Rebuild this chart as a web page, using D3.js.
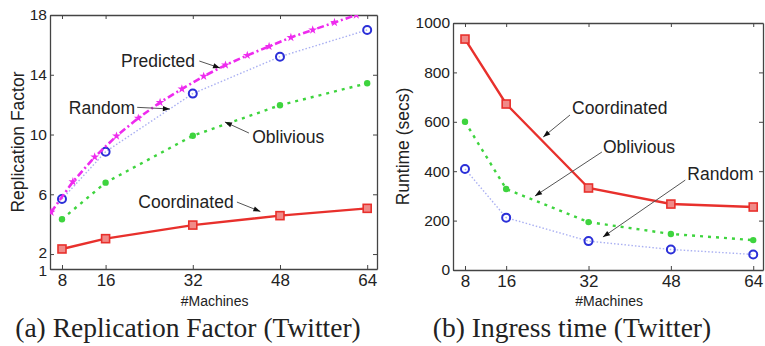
<!DOCTYPE html>
<html>
<head>
<meta charset="utf-8">
<script src="https://cdn.jsdelivr.net/npm/d3@7"></script>
<style>
  body { margin: 0; background: #fff; }
  svg { display: block; }
  text { font-family: "Liberation Sans", Arial, Helvetica, sans-serif; fill: #222; }
  .caption { font-family: "Liberation Serif", "Times New Roman", serif; }
</style>
</head>
<body>
<svg id="chart" width="765" height="346"></svg>
<script>
// x values
const machines = [8, 16, 32, 48, 64];
const predMachines = [6, 10, 14, 18, 22, 26, 30, 34, 38, 42, 46, 50, 54, 58, 62];

// (a) replication factor
const repCoordinated = [2.34, 3.03, 3.94, 4.57, 5.06];
const repOblivious = [4.33, 6.78, 9.92, 11.96, 13.43];
const repRandom = [5.68, 8.85, 12.74, 15.21, 17.0];
const repPredicted = [4.8, 6.84, 8.5, 9.9, 11.1, 12.15, 13.05, 13.9, 14.65, 15.3, 15.9, 16.5, 17.0, 17.5, 18.0];

// (b) ingress time in seconds
const ingCoordinated = [935, 672, 332, 267, 255];
const ingOblivious = [600, 328, 194, 146, 121];
const ingRandom = [409, 212, 117, 83, 63];

// tick labels
const xTicks = [8, 16, 32, 48, 64];
const repTicks = [1, 2, 6, 10, 14, 18];
const ingTicks = [0, 200, 400, 600, 800, 1000];

const svg = d3.select("#chart");

// styles for each series
const styles = {
    Coordinated: { stroke: "#e8302c", width: 2.4, dash: null, marker: "square", mcolor: "#e8302c" },
    Oblivious: { stroke: "#3ed43e", width: 2.4, dash: "3,5", marker: "dot", mcolor: "#3ed43e" },
    Random: { stroke: "#aab0f2", width: 1.4, dash: "1.5,2", marker: "circle", mcolor: "#2b2fd8" },
    Predicted: { stroke: "#ee2bee", width: 2.6, dash: "7,3,2,3", marker: "star", mcolor: "#ee2bee" }
};

function drawPanel(opt) {
    const g = svg.append("g");
    const x = d3.scaleLinear().domain(opt.xDomain).range([opt.left, opt.right]);
    const y = d3.scaleLinear().domain(opt.yDomain).range([opt.bottom, opt.top]);

    const clipId = "clip-" + opt.id;
    svg.append("clipPath").attr("id", clipId)
        .append("rect")
        .attr("x", opt.left).attr("y", opt.top)
        .attr("width", opt.right - opt.left).attr("height", opt.bottom - opt.top);

    // box + ticks on all four sides (ticks point inward)
    g.append("g")
        .attr("transform", "translate(0," + opt.bottom + ")")
        .call(d3.axisBottom(x).tickValues(xTicks).tickSizeInner(-4).tickSizeOuter(0).tickPadding(5))
        .call(a => a.selectAll("text").style("font-size", "17px"));
    g.append("g")
        .attr("transform", "translate(0," + opt.top + ")")
        .call(d3.axisTop(x).tickValues(xTicks).tickSizeInner(-4).tickSizeOuter(0).tickFormat(""));
    g.append("g")
        .attr("transform", "translate(" + opt.left + ",0)")
        .call(d3.axisLeft(y).tickValues(opt.yTicks).tickFormat(d3.format("d"))
            .tickSizeInner(-4).tickSizeOuter(0).tickPadding(3))
        .call(a => a.selectAll("text").style("font-size", "15.5px"))
        // the 1 and 2 ticks sit very close, spread their labels a little
        .call(a => a.selectAll(".tick text").filter(d => d === 1).attr("dy", "0.45em"))
        .call(a => a.selectAll(".tick text").filter(d => d === 2).attr("dy", "0.2em"));
    g.append("g")
        .attr("transform", "translate(" + opt.right + ",0)")
        .call(d3.axisRight(y).tickValues(opt.yTicks).tickSizeInner(-4).tickSizeOuter(0).tickFormat(""));
    g.selectAll(".domain").attr("stroke", "#444").attr("stroke-width", 1.3);
    g.selectAll(".tick line").attr("stroke", "#444");

    const plot = g.append("g").attr("clip-path", "url(#" + clipId + ")");

    opt.series.forEach(s => {
        const st = styles[s.name];
        const pts = s.xs.map((v, i) => [v, s.values[i]]);
        const line = d3.line().x(d => x(d[0])).y(d => y(d[1]));
        plot.append("path")
            .attr("d", line(pts))
            .attr("fill", "none")
            .attr("stroke", st.stroke)
            .attr("stroke-width", st.width)
            .attr("stroke-dasharray", st.dash);

        const m = plot.selectAll(null).data(pts).enter();
        if (st.marker === "square") {
            m.append("rect")
                .attr("x", d => x(d[0]) - 4).attr("y", d => y(d[1]) - 4)
                .attr("width", 8).attr("height", 8)
                .attr("fill", "#f08a88").attr("stroke", st.mcolor).attr("stroke-width", 1.6);
        } else if (st.marker === "dot") {
            m.append("circle")
                .attr("cx", d => x(d[0])).attr("cy", d => y(d[1])).attr("r", 3.2)
                .attr("fill", st.mcolor);
        } else if (st.marker === "circle") {
            m.append("circle")
                .attr("cx", d => x(d[0])).attr("cy", d => y(d[1])).attr("r", 4)
                .attr("fill", "none").attr("stroke", st.mcolor).attr("stroke-width", 2);
        } else {
            m.append("path")
                .attr("transform", d => "translate(" + x(d[0]) + "," + y(d[1]) + ")")
                .attr("d", d3.symbol(d3.symbolStar, 24))
                .attr("fill", st.mcolor);
        }
    });

    // annotations with arrows, positioned in data coordinates
    opt.notes.forEach(n => {
        g.append("text")
            .attr("x", x(n.tx)).attr("y", y(n.ty))
            .attr("text-anchor", n.anchor)
            .attr("dominant-baseline", "central")
            .style("font-size", "17.5px")
            .text(n.label);
        const x1 = x(n.from[0]), y1 = y(n.from[1]);
        const x2 = x(n.to[0]), y2 = y(n.to[1]);
        const ang = Math.atan2(y2 - y1, x2 - x1);
        g.append("line")
            .attr("x1", x1).attr("y1", y1).attr("x2", x2).attr("y2", y2)
            .attr("stroke", "#555").attr("stroke-width", 1);
        const len = 7, wid = 2.6;
        const bx = x2 - len * Math.cos(ang), by = y2 - len * Math.sin(ang);
        g.append("path")
            .attr("d", "M" + x2 + "," + y2 +
                "L" + (bx + wid * Math.sin(ang)) + "," + (by - wid * Math.cos(ang)) +
                "L" + (bx - wid * Math.sin(ang)) + "," + (by + wid * Math.cos(ang)) + "Z")
            .attr("fill", "#111");
    });

    // axis titles
    g.append("text")
        .attr("x", (x(xTicks[0]) + x(xTicks[xTicks.length - 1])) / 2)
        .attr("y", 301)
        .attr("text-anchor", "middle")
        .attr("dominant-baseline", "central")
        .style("font-size", "14px")
        .text("#Machines");
    g.append("text")
        .attr("transform", "translate(" + opt.yLabelX + "," + (opt.top + opt.bottom) / 2 + ") rotate(-90)")
        .attr("text-anchor", "middle")
        .attr("dominant-baseline", "central")
        .style("font-size", "17.5px")
        .text(opt.yLabel);

    svg.append("text")
        .attr("class", "caption")
        .attr("x", opt.captionX).attr("y", 337)
        .attr("text-anchor", "middle")
        .style("font-size", "27.5px")
        .text(opt.caption);
}

drawPanel({
    id: "a",
    left: 50, right: 377, top: 15, bottom: 269,
    xDomain: [5.8, 65.8], yDomain: [1, 18],
    yTicks: repTicks,
    yLabel: "Replication Factor", yLabelX: 18,
    caption: "(a) Replication Factor (Twitter)", captionX: 188,
    series: [
        { name: "Random", xs: machines, values: repRandom },
        { name: "Predicted", xs: predMachines, values: repPredicted },
        { name: "Oblivious", xs: machines, values: repOblivious },
        { name: "Coordinated", xs: machines, values: repCoordinated }
    ],
    notes: [
        { label: "Predicted", tx: 32.4, ty: 14.92, anchor: "end", from: [33.2, 14.92], to: [37, 14.45] },
        { label: "Random", tx: 21.4, ty: 11.78, anchor: "end", from: [21.8, 11.82], to: [27.8, 11.71] },
        { label: "Oblivious", tx: 42.9, ty: 9.83, anchor: "start", from: [42.3, 10.1], to: [37.9, 10.84] },
        { label: "Coordinated", tx: 22, ty: 5.48, anchor: "start", from: [40.1, 5.48], to: [44.4, 4.85] }
    ]
});

drawPanel({
    id: "b",
    left: 453, right: 763, top: 23, bottom: 270,
    xDomain: [5.67, 65.9], yDomain: [0, 1000],
    yTicks: ingTicks,
    yLabel: "Runtime (secs)", yLabelX: 403,
    caption: "(b) Ingress time (Twitter)", captionX: 572,
    series: [
        { name: "Random", xs: machines, values: ingRandom },
        { name: "Oblivious", xs: machines, values: ingOblivious },
        { name: "Coordinated", xs: machines, values: ingCoordinated }
    ],
    notes: [
        { label: "Coordinated", tx: 28.8, ty: 656, anchor: "start", from: [28.4, 627.5], to: [23.2, 538.5] },
        { label: "Oblivious", tx: 34.8, ty: 498, anchor: "start", from: [34.6, 477.7], to: [21.6, 299.6] },
        { label: "Random", tx: 51.2, ty: 388.7, anchor: "start", from: [50.8, 364], to: [34.8, 133.6] }
    ]
});
</script>
</body>
</html>
